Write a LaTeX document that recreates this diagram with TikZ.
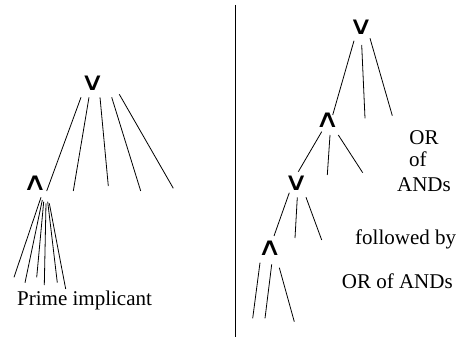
\documentclass[tikz,border=0pt]{standalone}
\usepackage{fontspec}
\usepackage{graphicx}
\usetikzlibrary{calc}
\setmainfont{Liberation Serif}
\newfontfamily\opfont{DejaVu Sans}
\newcommand{\opsign}[1]{\scalebox{1.35}[1]{#1}}
\begin{document}
\begin{tikzpicture}[x=1pt,y=-1pt,
  op/.style={font=\opfont\fontsize{25}{25}\selectfont, inner sep=0pt},
  lbl/.style={font=\fontsize{21}{24}\selectfont, inner sep=0pt},
  edge/.style={line width=0.8pt},
  divider/.style={line width=1.1pt}]
\useasboundingbox (0,0) rectangle (462,339);

% separator between the two trees
\coordinate (dtop) at (235.7,5);
\coordinate (dbot) at (235.7,337);
\draw[divider] (dtop) -- (dbot);

% ---------- left tree: OR over ANDs ----------
\node[op] (lor) at (92.5,83.3) {\opsign{∨}};
\node[op] (land) at (35,183) {\opsign{∧}};
\coordinate (lr2) at (73.3,191);
\coordinate (lr3) at (108.3,186);
\coordinate (lr4) at (140.7,191);
\coordinate (lr5) at (173.3,188.3);
\draw[edge] (lor) ++(-11.5,14) -- ($(land)+(11.7,8)$);
\draw[edge] (lor) ++(-3.5,14) -- (lr2);
\draw[edge] (lor) ++(7.5,14) -- (lr3);
\draw[edge] (lor) ++(19.2,14) -- (lr4);
\draw[edge] (lor) ++(26.8,11) -- (lr5);

\coordinate (p1) at (14,277.3);
\coordinate (p2) at (25,282.7);
\coordinate (p3) at (36.7,277.3);
\coordinate (p4) at (44.3,285);
\coordinate (p5) at (57.3,282.7);
\coordinate (p6) at (65.7,289);
\draw[edge] (land) ++(6,14.3) -- (p1);
\draw[edge] (land) ++(7.3,17) -- (p2);
\draw[edge] (land) ++(8.7,18.7) -- (p3);
\draw[edge] (land) ++(11,20.3) -- (p4);
\draw[edge] (land) ++(12.7,18.7) -- (p5);
\draw[edge] (land) ++(14.3,20.3) -- (p6);
\node[lbl, anchor=base west] (prime) at (17,305.5) {Prime implicant};

% ---------- right tree: alternating levels ----------
\node[op] (ror1) at (361,27) {\opsign{∨}};
\node[op] (rand1) at (327.5,120.5) {\opsign{∧}};
\node[op] (ror2) at (296.3,183.3) {\opsign{∨}};
\node[op] (rand2) at (269.7,248) {\opsign{∧}};

\coordinate (a2) at (365,118.3);
\coordinate (a3) at (392.3,115.7);
\draw[edge] (ror1) ++(-7,13.7) -- ($(rand1)+(5.2,-5.5)$);
\draw[edge] (ror1) ++(0.7,18) -- (a2);
\draw[edge] (ror1) ++(9,11.3) -- (a3);

\coordinate (b2) at (327.3,175);
\coordinate (b3) at (362.7,172.7);
\draw[edge] (rand1) ++(-5.8,11.2) -- ($(ror2)+(2,-11.6)$);
\draw[edge] (rand1) ++(2.5,14.5) -- (b2);
\draw[edge] (rand1) ++(10.8,14.5) -- (b3);

\coordinate (c2) at (295,238);
\coordinate (c3) at (321.7,240);
\draw[edge] (ror2) ++(-7,9.4) -- ($(rand2)+(4.3,-12)$);
\draw[edge] (ror2) ++(1,14) -- (c2);
\draw[edge] (ror2) ++(9.7,14) -- (c3);

\coordinate (d1) at (252.7,318.3);
\coordinate (d2) at (265,318.3);
\coordinate (d3) at (294.3,321.7);
\draw[edge] (rand2) ++(-9.7,14.7) -- (d1);
\draw[edge] (rand2) ++(2,16.3) -- (d2);
\draw[edge] (rand2) ++(9.6,19.7) -- (d3);

% caption on the right
\node[lbl, anchor=base] (t1) at (424,144) {OR};
\node[lbl, anchor=base west] (t2) at (409,166) {of};
\node[lbl, anchor=base] (t3) at (424,191) {ANDs};
\node[lbl, anchor=base west] (t4) at (355,244) {followed by};
\node[lbl, anchor=base west] (t5) at (341.7,288) {OR of ANDs};
\end{tikzpicture}
\end{document}
